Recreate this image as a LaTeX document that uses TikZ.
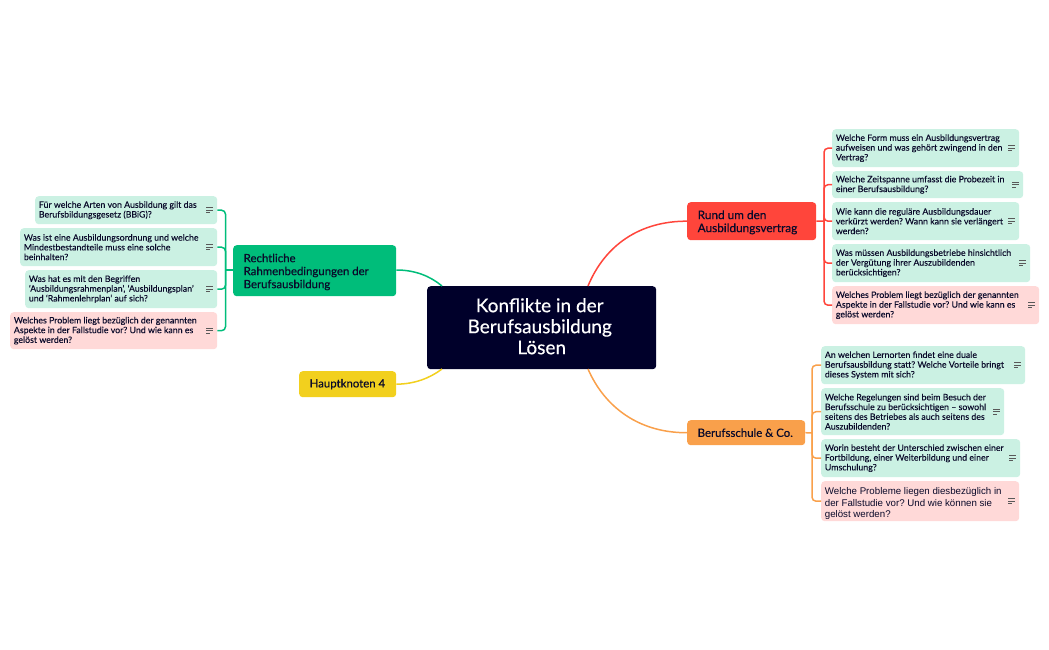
\documentclass[tikz,border=0pt]{standalone}
\usepackage{fontspec}
\setmainfont{Lato}
\newfontfamily\medfont[FakeBold=0.35]{Lato}
\newfontfamily\leaffont[FakeBold=0.1]{Lato}
\newfontfamily\altfont{Liberation Sans}
\frenchspacing
\usetikzlibrary{calc}
\definecolor{ink}{HTML}{0A0A2A}
\definecolor{navy}{HTML}{00002A}
\definecolor{mint}{HTML}{CBF1E3}
\definecolor{pinkbox}{HTML}{FFD9D8}
\definecolor{cgreen}{HTML}{00BD7A}
\definecolor{cred}{HTML}{FF453B}
\definecolor{corange}{HTML}{F9A04B}
\definecolor{cyellow}{HTML}{F2D01E}
\tikzset{
  x=1pt,y=-1pt,
  anybox/.style={anchor=north west,rounded corners=3.5pt,inner ysep=0pt,text=ink,align=flush left},
  leaf/.style={anybox,fill=mint,inner xsep=3.7pt,font=\leaffont\fontsize{8.8}{9.75}\selectfont},
  leafp/.style={leaf,fill=pinkbox},
  topic/.style={anybox,inner xsep=10.5pt,font=\medfont\fontsize{11.4}{13}\selectfont},
  link/.style={line width=1.5pt},
  linkr/.style={link,rounded corners=4pt},
  notes/.pic={\draw[line width=0.95pt,gray!70!black] (-3.25,-2.5) -- (3.25,-2.5) (-3.25,0) -- (3.25,0) (-3.25,2.5) -- (0.5,2.5);}
}
\newcommand{\noteicon}[1]{\pic at ($(#1.east)+(-7.75,0)$) {notes};}
\begin{document}
\begin{tikzpicture}
\useasboundingbox (0,0) rectangle (1049,650);
% centre
\node[anchor=north west,fill=navy,rounded corners=3.5pt,minimum width=229pt,minimum height=83pt,inner sep=0pt,text=white,align=center,font=\medfont\fontsize{19}{21}\selectfont] (center) at (427,286) {\hspace*{-4pt}Konflikte in der\\\hspace*{-4pt}Berufsausbildung\\Lösen\rule[-3pt]{0pt}{3pt}};
\coordinate (cTR) at (588,286);
\coordinate (cBR) at (588,369);
\coordinate (cTL) at (442,286);
\coordinate (cBL) at (442,369);
% main topics
\node[topic,fill=cgreen,text width=142pt,minimum height=51pt] (recht) at (233,245) {\rule{0pt}{11pt}Rechtliche\\Rahmenbedingungen der\\Berufsausbildung};
\node[topic,fill=cyellow,text width=76pt,minimum height=26pt] (haupt) at (299,371) {\mbox{Hauptknoten 4}};
\node[topic,fill=cred,text width=108pt,minimum height=38pt,font=\medfont\fontsize{11.8}{13}\selectfont] (rund) at (687,202) {\rule{0pt}{11pt}Rund um den\\Ausbildungsvertrag};
\node[topic,fill=corange,text width=97pt,minimum height=25pt] (schule) at (687,420) {\mbox{Berufsschule \& Co.}};
% left leaves
\node[leaf,text width=174.6pt,minimum height=28pt] (l1) at (35,196) {Für welche Arten von Ausbildung gilt das\\Berufsbildungsgesetz (BBiG)?};
\node[leaf,text width=189.6pt,minimum height=38pt] (l2) at (20,228) {Was ist eine Ausbildungsordnung und welche\\Mindestbestandteile muss eine solche\\beinhalten?};
\node[leaf,text width=184.6pt,minimum height=38pt] (l3) at (25,270) {Was hat es mit den Begriffen\\‘Ausbildungsrahmenplan’, ‘Ausbildungsplan’\\und ‘Rahmenlehrplan’ auf sich?};
\node[leafp,text width=199.6pt,minimum height=37pt] (l4) at (10,312) {Welches Problem liegt bezüglich der genannten\\Aspekte in der Fallstudie vor? Und wie kann es\\gelöst werden?};
% red leaves
\node[leaf,text width=179.6pt,minimum height=38pt] (r1) at (832,129) {Welche Form muss ein Ausbildungsvertrag\\aufweisen und was gehört zwingend in den\\Vertrag?};
\node[leaf,text width=183.6pt,minimum height=27pt] (r2) at (832,171) {Welche Zeitspanne umfasst die Probezeit in\\einer Berufsausbildung?};
\node[leaf,text width=179.6pt,minimum height=38pt] (r3) at (832,202) {Wie kann die reguläre Ausbildungsdauer\\verkürzt werden? Wann kann sie verlängert\\werden?};
\node[leaf,text width=190.6pt,minimum height=38pt] (r4) at (832,244) {Was müssen Ausbildungsbetriebe hinsichtlich\\der Vergütung ihrer Auszubildenden\\berücksichtigen?};
\node[leafp,text width=199.6pt,minimum height=38pt] (r5) at (832,286) {Welches Problem liegt bezüglich der genannten\\Aspekte in der Fallstudie vor? Und wie kann es\\gelöst werden?};
% orange leaves
\node[leaf,text width=196.6pt,minimum height=38pt] (b1) at (821,346) {An welchen Lernorten findet eine duale\\Berufsausbildung statt? Welche Vorteile bringt\\dieses System mit sich?};
\node[leaf,text width=175.6pt,minimum height=47pt] (b2) at (821,388) {Welche Regelungen sind beim Besuch der\\Berufsschule zu berücksichtigen – sowohl\\seitens des Betriebes als auch seitens des\\Auszubildenden?};
\node[leaf,text width=191.6pt,minimum height=38pt] (b3) at (821,439) {Worin besteht der Unterschied zwischen einer\\Fortbildung, einer Weiterbildung und einer\\Umschulung?};
\node[leafp,text width=190.6pt,minimum height=40pt,font=\altfont\fontsize{9.7}{11.3}\selectfont] (b4) at (821,481) {\rule{0pt}{12pt}Welche Probleme liegen diesbezüglich in\\der Fallstudie vor? Und wie können sie\\gelöst werden?};
% icons
\foreach \n in {l1,l2,l3,l4,r1,r2,r3,r4,r5,b1,b2,b3,b4} {\noteicon{\n}}
% spines
\coordinate (sg) at (225.5,270);
\coordinate (sr) at (824,221);
\coordinate (so) at (812,433);
\draw[link,cgreen] (recht.west |- sg) -- (sg);
\draw[link,cred] (rund.east) -- (sr);
\draw[link,corange] (schule.east) -- (so);
\foreach \n in {l1,l2,l3,l4} {\draw[linkr,cgreen] (sg) |- (\n.east);}
\foreach \n in {r1,r2,r3,r4,r5} {\draw[linkr,cred] (sr) |- (\n.west);}
\foreach \n in {b1,b2,b3,b4} {\draw[linkr,corange] (so) |- (\n.west);}
% central links
\draw[link,cred] (cTR) .. controls (605,245) and (640,221) .. (rund.west);
\draw[link,corange] (cBR) .. controls (605,408) and (640,433) .. (schule.west);
\draw[link,cgreen] (cTL) .. controls (430,276) and (415,270) .. (recht.east |- sg);
\draw[link,cyellow] (cBL) .. controls (430,378) and (415,384) .. (haupt.east);
\end{tikzpicture}
\end{document}
